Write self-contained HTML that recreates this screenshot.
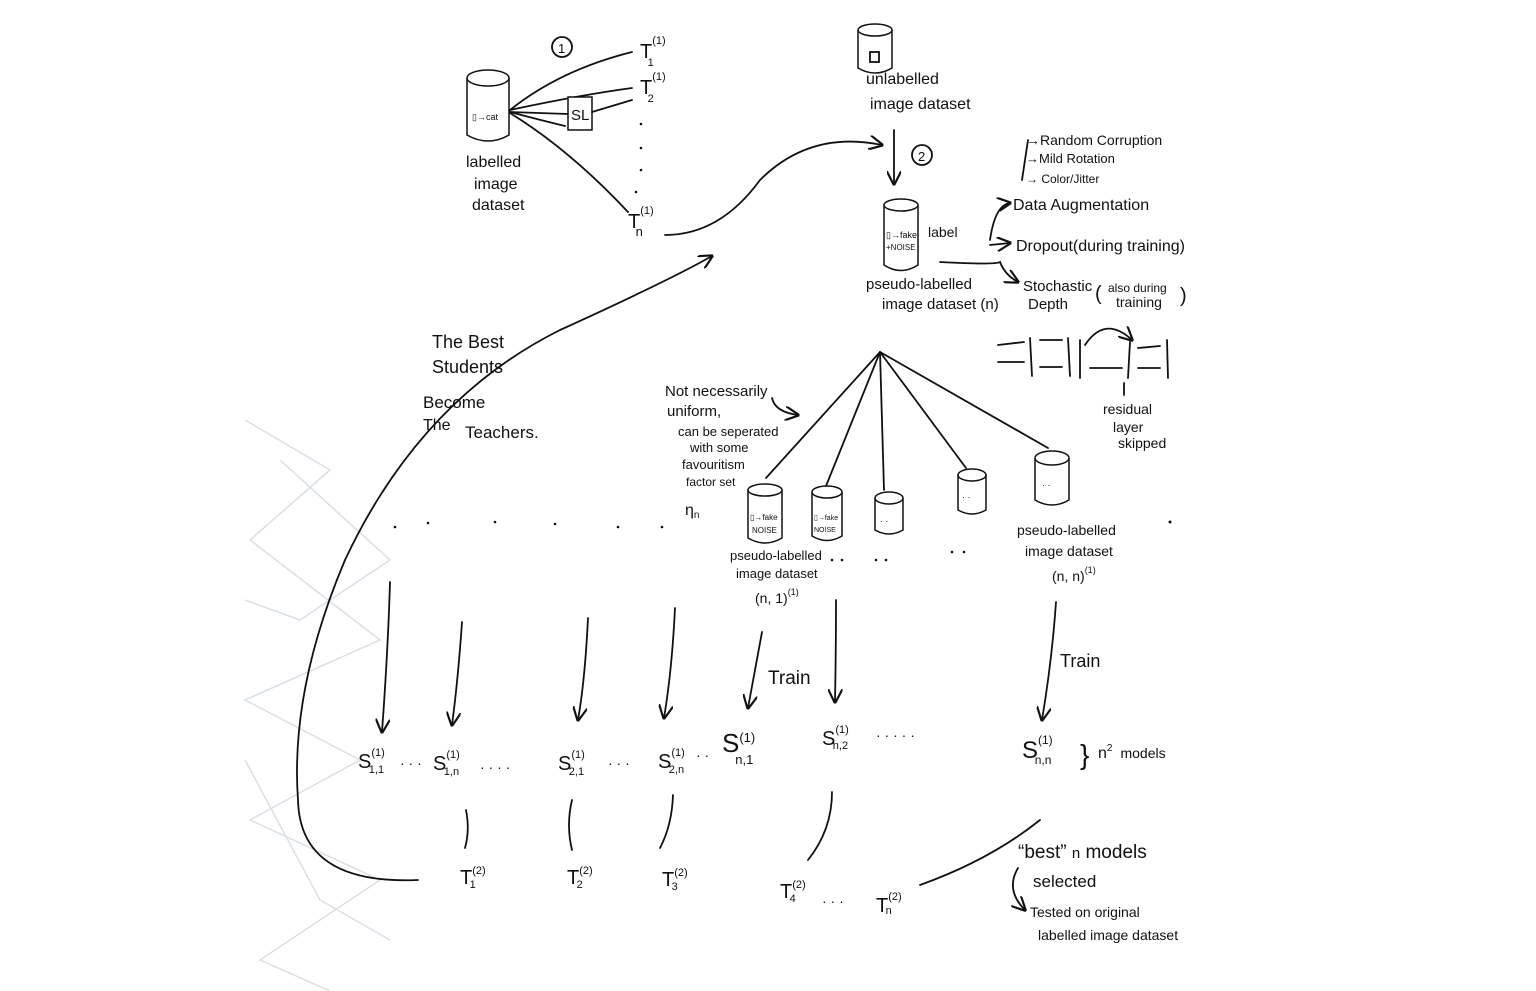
<!DOCTYPE html>
<html><head><meta charset="utf-8"><style>
html,body{margin:0;padding:0;background:#fff;}
svg{display:block;}
text{font-family:"Liberation Sans",sans-serif;fill:#111;}
.s{stroke:#111;stroke-width:1.8;fill:none;stroke-linecap:round;}
.f{stroke:#111;stroke-width:1.5;fill:#fff;}
</style></head><body>
<svg width="1536" height="991" viewBox="0 0 1536 991" xmlns="http://www.w3.org/2000/svg">
<defs>
<marker id="a" viewBox="0 0 10 10" refX="9" refY="5" markerWidth="8" markerHeight="8" orient="auto"><path d="M0,0 L10,5 L0,10" fill="none" stroke="#111" stroke-width="1.5"/></marker>
</defs>
<!-- faint background triangles -->
<g stroke="#cfd8e0" stroke-width="1.5" fill="none" opacity="0.8">
<path d="M245,420 L330,470 L250,540 L380,640 L245,700 L360,760 L250,820 L380,880 L260,960 L330,991"/>
<path d="M280,460 L390,560 L300,620 L245,600"/>
<path d="M245,760 L320,900 L390,940"/>
</g>
<!-- labelled dataset cylinder -->
<path class="f" d="M467,78 L467,135 Q488,147 509,135 L509,78"/>
<ellipse class="f" cx="488" cy="78" rx="21" ry="8"/>
<text x="472" y="120" font-size="9">▯→cat</text>
<text x="466" y="167" font-size="16">labelled</text>
<text x="474" y="189" font-size="16">image</text>
<text x="472" y="210" font-size="16">dataset</text>
<!-- fan lines -->
<path class="s" d="M510,110 Q560,70 632,52"/>
<path class="s" d="M510,110 Q580,95 632,88"/>
<path class="s" d="M510,112 L568,114"/>
<path class="s" d="M510,113 Q570,150 628,212"/>
<path class="s" d="M510,112 Q540,120 565,126"/>
<rect class="f" x="568" y="97" width="24" height="33"/>
<text x="571" y="120" font-size="15">SL</text>
<path class="s" d="M592,112 L632,100"/>
<circle class="s" cx="562" cy="47" r="10"/><text x="558" y="53" font-size="13">1</text>
<text x="640" y="58" font-size="20">T<tspan font-size="11" dy="-14">(1)</tspan><tspan font-size="11" dx="-18" dy="22">1</tspan></text>
<text x="640" y="94" font-size="20">T<tspan font-size="11" dy="-14">(1)</tspan><tspan font-size="11" dx="-18" dy="22">2</tspan></text>
<g fill="#111"><circle cx="641" cy="124" r="1.3"/><circle cx="641" cy="148" r="1.3"/><circle cx="641" cy="170" r="1.3"/><circle cx="636" cy="192" r="1.3"/></g>
<text x="628" y="228" font-size="20">T<tspan font-size="11" dy="-14">(1)</tspan><tspan font-size="13" dx="-18" dy="22">n</tspan></text>
<!-- curve Tn to unlabelled -->
<path class="s" d="M665,235 Q720,235 760,180 Q810,130 882,145" marker-end="url(#a)"/>
<!-- unlabelled cylinder -->
<path class="f" d="M858,30 L858,68 Q875,78 892,68 L892,30"/>
<ellipse class="f" cx="875" cy="30" rx="17" ry="6"/>
<rect x="870" y="52" width="9" height="10" class="s"/>
<text x="866" y="84" font-size="16">unlabelled</text>
<text x="870" y="109" font-size="16">image dataset</text>
<path class="s" d="M894,130 L894,184" marker-end="url(#a)"/>
<circle class="s" cx="922" cy="155" r="10"/><text x="918" y="161" font-size="13">2</text>
<!-- pseudo-labelled cylinder -->
<path class="f" d="M884,205 L884,265 Q901,276 918,265 L918,205"/>
<ellipse class="f" cx="901" cy="205" rx="17" ry="6"/>
<text x="886" y="238" font-size="9">▯→fake</text>
<text x="886" y="250" font-size="8">+NOISE</text>
<text x="928" y="237" font-size="14">label</text>
<text x="866" y="289" font-size="15">pseudo-labelled</text>
<text x="882" y="309" font-size="15">image dataset (n)</text>
<path class="s" d="M990,240 Q995,205 1010,203" marker-end="url(#a)"/>
<path class="s" d="M990,245 L1010,243" marker-end="url(#a)"/>
<path class="s" d="M940,262 Q995,265 1000,262 Q1005,275 1018,282" marker-end="url(#a)"/>
<text x="1013" y="210" font-size="16">Data Augmentation</text>
<text x="1016" y="251" font-size="16">Dropout(during training)</text>
<text x="1023" y="291" font-size="15">Stochastic</text>
<text x="1028" y="309" font-size="15">Depth</text>
<text x="1095" y="300" font-size="20">(</text>
<text x="1108" y="292" font-size="12">also during</text>
<text x="1116" y="307" font-size="14">training</text>
<text x="1180" y="302" font-size="20">)</text>
<path class="s" d="M1028,140 L1022,180"/>
<text x="1026" y="145" font-size="14">→Random Corruption</text>
<text x="1026" y="163" font-size="13">→Mild Rotation</text>
<text x="1026" y="183" font-size="12">→ Color/Jitter</text>
<!-- residual sketch -->
<g class="s">
<path d="M998,345 L1024,342"/><path d="M998,362 L1024,362"/>
<path d="M1030,338 L1032,376"/><path d="M1040,340 L1062,340"/><path d="M1040,367 L1062,367"/>
<path d="M1068,338 L1070,376"/><path d="M1080,340 L1080,378"/>
<path d="M1085,345 Q1105,315 1132,340" marker-end="url(#a)"/>
<path d="M1090,368 L1122,368"/><path d="M1130,342 L1128,378"/>
<path d="M1138,348 L1160,346"/><path d="M1138,368 L1160,368"/><path d="M1167,340 L1168,378"/>
<path d="M1124,383 L1124,395"/>
</g>
<text x="1103" y="414" font-size="14">residual</text>
<text x="1113" y="432" font-size="14">layer</text>
<text x="1118" y="448" font-size="14">skipped</text>
<!-- fan to sub-datasets -->
<g class="s">
<path d="M880,352 L766,478"/><path d="M880,352 L826,486"/><path d="M880,352 L884,490"/><path d="M880,352 L966,468"/><path d="M880,352 L1048,448"/>
</g>
<g>
<path class="f" d="M748,490 L748,538 Q765,548 782,538 L782,490"/><ellipse class="f" cx="765" cy="490" rx="17" ry="6"/>
<text x="750" y="520" font-size="8">▯→fake</text><text x="752" y="533" font-size="8">NOISE</text>
<path class="f" d="M812,492 L812,536 Q827,545 842,536 L842,492"/><ellipse class="f" cx="827" cy="492" rx="15" ry="6"/>
<text x="814" y="520" font-size="7">▯→fake</text><text x="814" y="532" font-size="7">NOISE</text>
<path class="f" d="M875,498 L875,530 Q889,538 903,530 L903,498"/><ellipse class="f" cx="889" cy="498" rx="14" ry="6"/>
<text x="880" y="524" font-size="9">· ·</text>
<path class="f" d="M958,475 L958,510 Q972,518 986,510 L986,475"/><ellipse class="f" cx="972" cy="475" rx="14" ry="6"/>
<text x="962" y="500" font-size="9">· ·</text>
<path class="f" d="M1035,458 L1035,500 Q1052,510 1069,500 L1069,458"/><ellipse class="f" cx="1052" cy="458" rx="17" ry="7"/>
<text x="1042" y="488" font-size="9">· ·</text>
</g>
<text x="665" y="396" font-size="15">Not necessarily</text>
<text x="667" y="416" font-size="15">uniform,</text>
<path class="s" d="M772,398 Q775,412 798,415" marker-end="url(#a)"/>
<text x="678" y="436" font-size="13">can be seperated</text>
<text x="690" y="452" font-size="13">with some</text>
<text x="682" y="469" font-size="13">favouritism</text>
<text x="686" y="486" font-size="12">factor set</text>
<text x="685" y="515" font-size="16">η<tspan font-size="10" dy="3">n</tspan></text>
<text x="730" y="560" font-size="13">pseudo-labelled</text>
<text x="736" y="578" font-size="13">image dataset</text>
<text x="755" y="603" font-size="14">(n, 1)<tspan font-size="9" dy="-8">(1)</tspan></text>
<text x="1017" y="535" font-size="14">pseudo-labelled</text>
<text x="1025" y="556" font-size="14">image dataset</text>
<text x="1052" y="581" font-size="14">(n, n)<tspan font-size="9" dy="-8">(1)</tspan></text>
<g fill="#111">
<circle cx="395" cy="527" r="1.3"/><circle cx="428" cy="523" r="1.3"/><circle cx="495" cy="522" r="1.3"/><circle cx="555" cy="524" r="1.3"/><circle cx="618" cy="527" r="1.3"/><circle cx="662" cy="527" r="1.3"/>
<circle cx="832" cy="560" r="1.3"/><circle cx="842" cy="560" r="1.3"/><circle cx="876" cy="560" r="1.3"/><circle cx="886" cy="560" r="1.3"/><circle cx="952" cy="552" r="1.3"/><circle cx="964" cy="552" r="1.3"/>
<circle cx="1170" cy="522" r="1.5"/>
</g>
<!-- down arrows -->
<g class="s">
<path d="M390,582 Q388,650 382,732" marker-end="url(#a)"/>
<path d="M462,622 Q458,680 452,725" marker-end="url(#a)"/>
<path d="M588,618 Q585,680 578,720" marker-end="url(#a)"/>
<path d="M675,608 Q672,670 664,718" marker-end="url(#a)"/>
<path d="M762,632 Q755,670 748,708" marker-end="url(#a)"/>
<path d="M836,600 Q836,650 835,702" marker-end="url(#a)"/>
<path d="M1056,602 Q1052,660 1042,720" marker-end="url(#a)"/>
</g>
<text x="768" y="684" font-size="19">Train</text>
<text x="1060" y="667" font-size="18">Train</text>
<!-- S labels -->
<g font-size="20">
<text x="358" y="768">S<tspan font-size="11" dy="-12">(1)</tspan><tspan font-size="11" dx="-16" dy="17">1,1</tspan></text>
<text x="400" y="768" font-size="14">· · ·</text>
<text x="433" y="770">S<tspan font-size="11" dy="-12">(1)</tspan><tspan font-size="11" dx="-16" dy="17">1,n</tspan></text>
<text x="480" y="772" font-size="14">· · · ·</text>
<text x="558" y="770">S<tspan font-size="11" dy="-12">(1)</tspan><tspan font-size="11" dx="-16" dy="17">2,1</tspan></text>
<text x="608" y="768" font-size="14">· · ·</text>
<text x="658" y="768">S<tspan font-size="11" dy="-12">(1)</tspan><tspan font-size="11" dx="-16" dy="17">2,n</tspan></text>
<text x="696" y="760" font-size="14">· ·</text>
<text x="722" y="752" font-size="26">S<tspan font-size="13" dy="-10">(1)</tspan><tspan font-size="13" dx="-20" dy="22">n,1</tspan></text>
<text x="822" y="745">S<tspan font-size="11" dy="-12">(1)</tspan><tspan font-size="11" dx="-16" dy="16">n,2</tspan></text>
<text x="876" y="740" font-size="14">· · · · ·</text>
<text x="1022" y="758" font-size="24">S<tspan font-size="12" dy="-14">(1)</tspan><tspan font-size="12" dx="-18" dy="20">n,n</tspan></text>
<text x="1080" y="764" font-size="28">}</text>
<text x="1098" y="758" font-size="16">n<tspan font-size="10" dy="-7">2</tspan><tspan dy="7" dx="8" font-size="14">models</tspan></text>
</g>
<g class="s">
<path d="M466,810 Q470,830 465,848"/><path d="M572,800 Q566,825 572,850"/><path d="M673,795 Q672,825 660,848"/><path d="M832,792 Q832,830 808,860"/>
</g>
<g font-size="20">
<text x="460" y="884">T<tspan font-size="11" dy="-10">(2)</tspan><tspan font-size="11" dx="-16" dy="14">1</tspan></text>
<text x="567" y="884">T<tspan font-size="11" dy="-10">(2)</tspan><tspan font-size="11" dx="-16" dy="14">2</tspan></text>
<text x="662" y="886">T<tspan font-size="11" dy="-10">(2)</tspan><tspan font-size="11" dx="-16" dy="14">3</tspan></text>
<text x="780" y="898">T<tspan font-size="11" dy="-10">(2)</tspan><tspan font-size="11" dx="-16" dy="14">4</tspan></text>
<text x="822" y="906" font-size="14">· · ·</text>
<text x="876" y="912">T<tspan font-size="11" dy="-12">(2)</tspan><tspan font-size="11" dx="-16" dy="14">n</tspan></text>
</g>
<!-- big return curve -->
<path class="s" d="M418,880 Q300,885 298,800 Q290,690 345,560 Q420,400 560,330 Q670,280 712,256" marker-end="url(#a)"/>
<text x="432" y="348" font-size="18">The Best</text>
<text x="432" y="373" font-size="18">Students</text>
<text x="423" y="408" font-size="17">Become</text>
<text x="423" y="430" font-size="16">The</text>
<text x="465" y="438" font-size="17">Teachers.</text>
<!-- best models -->
<path class="s" d="M920,885 Q990,860 1040,820"/>
<text x="1018" y="858" font-size="19">“best” <tspan font-size="15">n</tspan> models</text>
<text x="1033" y="887" font-size="17">selected</text>
<path class="s" d="M1018,868 Q1005,890 1025,910" marker-end="url(#a)"/>
<text x="1030" y="917" font-size="14">Tested on original</text>
<text x="1038" y="940" font-size="14">labelled image dataset</text>
</svg>
</body></html>
